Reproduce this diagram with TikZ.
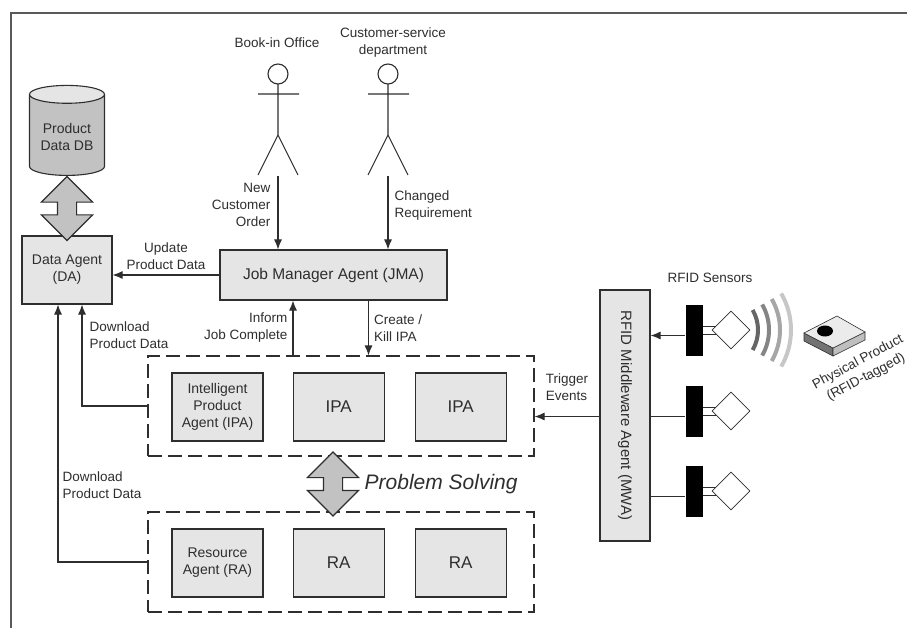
\documentclass[tikz,border=0pt]{standalone}
\usepackage{fontspec}
\setmainfont{Liberation Sans}
\usetikzlibrary{positioning,shapes.geometric,shapes.arrows,arrows.meta}
\definecolor{agentgray}{gray}{0.9}
\definecolor{blockgray}{gray}{0.76}
\definecolor{linegray}{gray}{0.18}

\begin{document}
\begin{tikzpicture}[x=1pt, y=-1pt, line width=1.1pt, linegray,
  >={Latex[length=10pt,width=8pt]},
  txt/.style = {font=\fontsize{13.5}{17}\selectfont, inner sep=1pt},
  agent/.style = {draw, fill=agentgray, align=center,
    minimum width=91pt, minimum height=68pt,
    font=\fontsize{14}{17}\selectfont},
  bigagent/.style = {agent, font=\fontsize{17}{20}\selectfont},
  group/.style = {draw, dash pattern=on 14pt off 6pt,
    minimum width=386pt, minimum height=100pt},
  block/.style = {double arrow, draw, fill=blockgray, rotate=90,
    inner sep=9pt, double arrow head extend=16pt,
    minimum width=50pt, minimum height=64pt},
  sensor/.style = {fill=black, inner sep=0, minimum width=17pt, minimum height=51pt},
  antenna/.style = {diamond, draw, fill=white, inner sep=0, minimum size=38pt,
    line width=0.8pt}]
  \useasboundingbox (0,0) rectangle (907,628);
  \draw[black!65] (907,13) -- (11,13) -- (11,628);

  \foreach \x/\n in {278/book, 388/care} {
    \draw (\x,74) circle (10pt) (\x-20,94) -- (\x+21,94)
      (\x,84) -- (\x,135) -- (\x-20,175) (\x,135) -- (\x+20,175);
    \coordinate (\n) at (\x,176); }
  \node[txt] (booklbl) at (277,43) {Book-in Office};
  \node[txt, align=center] (carelbl) at (393,43) {Customer-service\\department};

  \node[cylinder, shape border rotate=90, aspect=0.3, draw,
    cylinder uses custom fill, cylinder body fill=blockgray,
    cylinder end fill=agentgray, minimum width=75pt, minimum height=90pt,
    align=center, font=\fontsize{14}{17}\selectfont] (db) at (67,137) {Product\\Data DB};
  \node[agent, minimum width=90pt] (da) at (67,270) {Data Agent\\(DA)};
  \node[agent, minimum width=227pt, minimum height=50pt,
    font=\fontsize{15.5}{18}\selectfont] (jma) at (333.5,275) {Job Manager Agent (JMA)};

  \node[group] (ipas) at (341,406) {};
  \node[agent] (ipa1) at (217.5,407) {Intelligent\\Product\\Agent (IPA)};
  \node[bigagent, right=29pt of ipa1] (ipa2) {IPA};
  \node[bigagent, right=30pt of ipa2] (ipa3) {IPA};

  \node[group] (ras) at (341,562) {};
  \node[agent] (ra1) at (217.5,563) {Resource\\Agent (RA)};
  \node[bigagent, right=29pt of ra1] (ra2) {RA};
  \node[bigagent, right=30pt of ra2] (ra3) {RA};

  \node[agent, minimum width=50pt, minimum height=251pt,
    label={[rotate=-90, font=\fontsize{15}{18}\selectfont]center:RFID Middleware Agent (MWA)}]
    (mwa) at (625,415.5) {};

  \node[block] (dbio) at (67,208.5) {};
  \node[block] (solve) at (333,484) {};
  \node[txt, right=20pt of solve.south, font=\itshape\fontsize{21}{24}\selectfont] (solvelbl) {Problem Solving};

  \draw[->] (book) -- node[txt, left=6pt, pos=0.4, align=right] {New\\Customer\\Order} (book |- jma.north);
  \draw[->] (care) -- node[txt, right=5pt, pos=0.4, align=left] {Changed\\Requirement} (care |- jma.north);
  \draw[->] (jma.west) -- node[txt, above=4pt, align=center] {Update\\Product Data} (jma.west -| da.east);
  \draw[->] ([xshift=-40.5pt]jma.south |- ipas.north) -- node[txt, left=4pt, align=right] {Inform\\Job Complete} ([xshift=-40.5pt]jma.south);
  \draw[->] ([xshift=35pt]jma.south) -- node[txt, right=4pt, align=left] {Create /\\Kill IPA} ([xshift=35pt]jma.south |- ipas.north);
  \draw[->] (ipas.west) -| node[txt, right=6pt, pos=0.85, align=left] {Download\\Product Data} ([xshift=15pt]da.south);
  \draw[->] (ras.west) -| node[txt, right=3pt, pos=0.65, align=left] {Download\\Product Data} ([xshift=-9pt]da.south);

  \node[txt] (sensorlbl) at (710,278) {RFID Sensors};
  \foreach \y/\i in {330/1, 411/2, 491/3} {
    \node[sensor] (sensor\i) at (694,\y) {};
    \node[antenna] (tag\i) at (731,\y) {};
    \draw[line width=0.8pt] ([yshift=4pt]sensor\i.east) -- ([shift={(4pt,4pt)}]tag\i.west)
      ([yshift=-4pt]sensor\i.east) -- ([shift={(4pt,-4pt)}]tag\i.west);
    \coordinate (wire\i) at ([yshift=-5.5pt]sensor\i.west); }
  \draw[->] (wire1) -- (wire1 -| mwa.east);
  \draw (wire2) -- (wire2 -| mwa.east) (wire3) -- (wire3 -| mwa.east);
  \draw[->] (mwa.west |- wire2) -- node[txt, above=14pt, align=left] {Trigger\\Events} (ipas.east |- wire2);

  \coordinate (wave) at (718,330);
  \foreach \r/\c in {40/60, 51/48, 62/35, 73/22}
    \draw[line width=4pt, black!\c] ([shift={(-30:\r pt)}]wave) arc[start angle=-30, end angle=30, radius=\r pt];

  \filldraw[line width=0.6pt, fill=black!55] (804,333) -- (833,348) -- (833,356) -- (804,341) -- cycle;
  \filldraw[line width=0.6pt, fill=black!25] (833,348) -- (865,332) -- (865,340) -- (833,356) -- cycle;
  \filldraw[line width=0.6pt, fill=black!8] (804,333) -- (837,316) -- (865,332) -- (833,348) -- cycle;
  \fill[black] (825,331) ellipse (8pt and 5.5pt);
  \node[txt, rotate=28, align=center] (product) at (862,370) {Physical Product\\(RFID-tagged)};
\end{tikzpicture}
\end{document}
